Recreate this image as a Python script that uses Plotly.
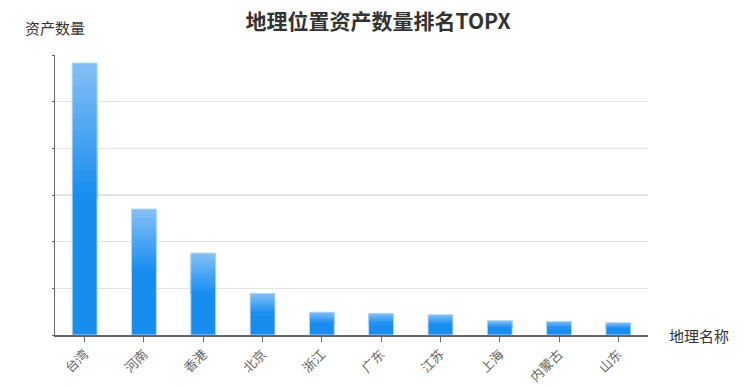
import plotly.graph_objects as go

categories = ["台湾", "河南", "香港", "北京", "浙江", "广东", "江苏", "上海", "内蒙古", "山东"]
values = [5830, 2700, 1756, 893, 490, 465, 435, 306, 293, 264]
title_text = "地理位置资产数量排名TOPX"
y_name = "资产数量"
x_name = "地理名称"

top_color = (0x83, 0xbf, 0xf6)
mid_color = (0x18, 0x8d, 0xf0)
n_seg = 24
bar_w = 0.42

fig = go.Figure()
# base bar (solid colour, full height)
fig.add_trace(go.Bar(x=categories, y=values, width=bar_w,
                     marker=dict(color="rgb(24,141,240)", line=dict(width=0)),
                     hoverinfo="skip", showlegend=False))
# gradient on the upper half of every bar
for i in range(n_seg):
    t = i / (n_seg - 1)
    c = tuple(round(top_color[k] + (mid_color[k] - top_color[k]) * t) for k in range(3))
    bases = [v * 0.5 for v in values]
    heights = [v * 0.5 * (1 - i / n_seg) for v in values]
    fig.add_trace(go.Bar(x=categories, y=heights, base=bases, width=bar_w,
                         marker=dict(color="rgb(%d,%d,%d)" % c, line=dict(width=0)),
                         hoverinfo="skip", showlegend=False))
# faint light outline
fig.add_trace(go.Bar(x=categories, y=values, width=bar_w,
                     marker=dict(color="rgba(0,0,0,0)",
                                 line=dict(width=1, color="rgba(190,222,252,0.9)")),
                     hoverinfo="skip", showlegend=False))

fig.update_layout(
    width=756, height=387,
    barmode="overlay",
    margin=dict(l=55, r=108, t=55, b=52, autoexpand=False),
    paper_bgcolor="white", plot_bgcolor="white",
    font=dict(family="Noto Sans CJK SC", color="#333", size=12),
    title=dict(text="<b>" + title_text + "</b>", x=0.5, xanchor="center",
               y=0.945, yanchor="middle", font=dict(size=21, color="#333")),
    hovermode=False,
    xaxis=dict(type="category", showgrid=False, showline=True, linecolor="#666",
               linewidth=1.5, ticks="outside", ticklen=5, tickcolor="#666",
               tickangle=-45, tickfont=dict(size=13, color="#666"),
               range=[-0.5, 9.5], automargin=False),
    yaxis=dict(range=[0, 6000], dtick=1000, showgrid=True, gridcolor="#e3e3e3",
               gridwidth=1.2, showline=True, linecolor="#666", linewidth=1.5,
               ticks="outside", ticklen=2, tickcolor="#666",
               showticklabels=False, zeroline=False, automargin=False),
    annotations=[
        dict(text=y_name, xref="paper", yref="paper", x=0.0, y=1.0,
             xanchor="center", yanchor="middle", yshift=28, showarrow=False,
             font=dict(size=15, color="#333")),
        dict(text=x_name, xref="paper", yref="paper", x=1.0, y=0,
             xanchor="left", yanchor="middle", xshift=19, showarrow=False,
             font=dict(size=15, color="#333")),
    ],
)

fig.write_html("out.html", config={"displayModeBar": False, "staticPlot": True},
               post_script="document.body.style.margin='0';document.body.style.overflow='hidden';")
